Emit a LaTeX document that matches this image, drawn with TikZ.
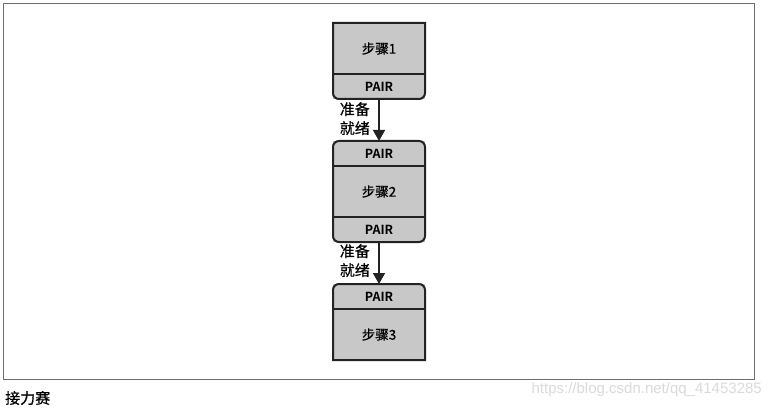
\documentclass[tikz,border=0pt]{standalone}
\usepackage{fontspec}
\usepackage{xcolor}
\usetikzlibrary{arrows.meta,positioning}
\setmainfont{Noto Sans CJK SC}[FakeBold=0.7]
\newfontfamily\pairfont{Noto Sans CJK SC Bold}
\newfontfamily\markfont{Liberation Sans}
\definecolor{boxgray}{RGB}{200,200,200}
\definecolor{edgegray}{RGB}{35,35,35}
\definecolor{framegray}{RGB}{110,110,110}
\definecolor{markgray}{RGB}{218,218,218}

\begin{document}
\begin{tikzpicture}[
    x=1pt,y=-1pt,
    node distance=0pt,
    part/.style={rectangle,fill=boxgray,minimum width=92pt,inner sep=0pt,outer sep=0pt},
    stepbox/.style={part,minimum height=51pt,font=\fontsize{13.5}{15}\selectfont},
    pairbox/.style={part,minimum height=25pt,font=\pairfont\fontsize{12.5}{14}\selectfont},
    edge/.style={draw=edgegray,line width=2pt},
    split/.style={draw=edgegray,line width=1.2pt},
    arrow/.style={-{Triangle[length=11pt,width=12pt]},line width=1.6pt,draw=edgegray},
    ready/.style={font=\fontsize{15}{19}\selectfont,align=left,inner sep=0pt}
  ]
    \useasboundingbox (0,0) rectangle (769,409);
    \draw[framegray,line width=1pt] (3,4) rectangle (754,379);

    % relay stage 1
    \node[stepbox] (step1) at (379,48.5) {步骤1};
    \node[pairbox,below=of step1] (pair1) {PAIR};
    \draw[split] (step1.south west) -- (step1.south east);
    \draw[edge] (step1.north west) -- (step1.north east)
      [rounded corners=6pt] -- (pair1.south east) -- (pair1.south west)
      [sharp corners] -- cycle;

    % relay stage 2
    \node[pairbox,below=42pt of pair1] (pair2a) {PAIR};
    \node[stepbox,below=of pair2a] (step2) {步骤2};
    \node[pairbox,below=of step2] (pair2b) {PAIR};
    \draw[split] (pair2a.south west) -- (pair2a.south east);
    \draw[split] (pair2b.north west) -- (pair2b.north east);
    \draw[edge,rounded corners=6pt] (pair2a.north west) rectangle (pair2b.south east);

    % relay stage 3
    \node[pairbox,below=42pt of pair2b] (pair3) {PAIR};
    \node[stepbox,below=of pair3] (step3) {步骤3};
    \draw[split] (pair3.south west) -- (pair3.south east);
    \draw[edge] (step3.south east) -- (step3.south west)
      [rounded corners=6pt] -- (pair3.north west) -- (pair3.north east)
      [sharp corners] -- cycle;

    % handoffs
    \draw[arrow] (pair1) -- (pair2a);
    \draw[arrow] (pair2b) -- (pair3);
    \node[ready,anchor=north east] (ready1) at (370,102) {准备\\就绪};
    \node[ready,anchor=north east] (ready2) at (370,244) {准备\\就绪};

    \node[anchor=west,inner sep=0pt,font=\fontsize{15}{17}\selectfont] (caption) at (5,398) {接力赛};
    \node[anchor=east,inner sep=0pt,text=markgray,font=\markfont\fontsize{15}{17}\selectfont] (mark) at (762,390) {https://blog.csdn.net/qq\_41453285};
  \end{tikzpicture}
\end{document}
